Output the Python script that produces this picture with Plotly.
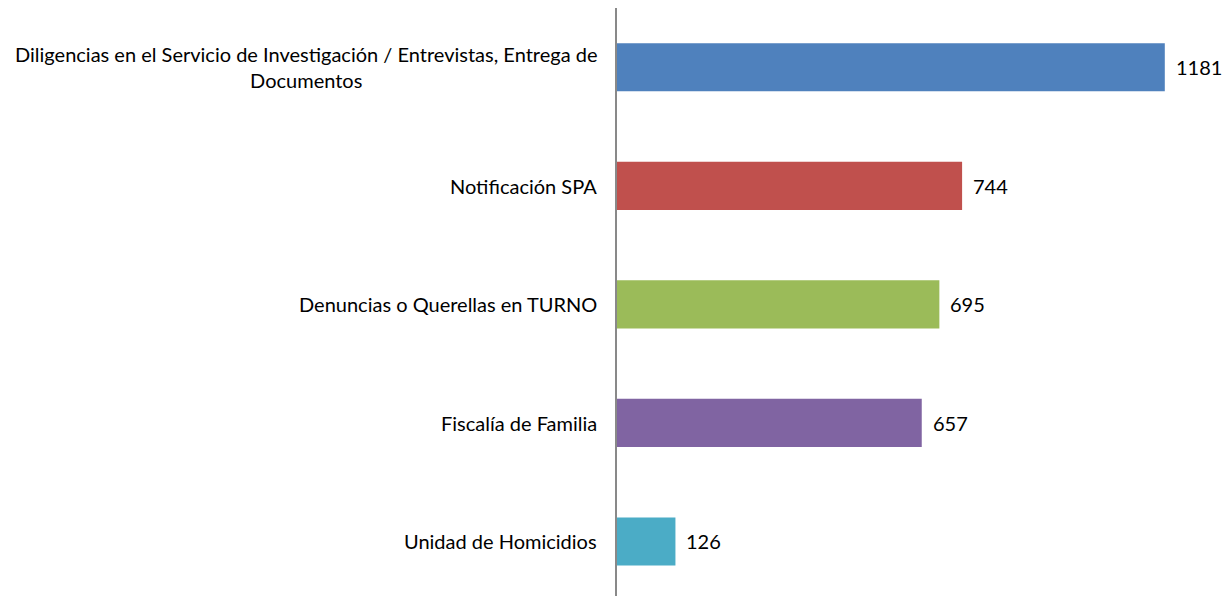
import plotly.graph_objects as go

# categorias de arriba hacia abajo
categorias = [
    "Diligencias en el Servicio de Investigación / Entrevistas, Entrega de<br>Documentos",
    "Notificación SPA",
    "Denuncias o Querellas en TURNO",
    "Fiscalía de Familia",
    "Unidad de Homicidios",
]
valores = [1181, 744, 695, 657, 126]
colores = ["#4F81BD", "#C0504D", "#9BBB59", "#8064A2", "#4BACC6"]

FUENTE = "Lato"
TAM = 20

fig = go.Figure(go.Bar(
    x=valores,
    y=list(range(len(categorias))),
    orientation="h",
    marker=dict(color=colores, line=dict(width=0)),
    hoverinfo="x",
))

# etiquetas de categoria centradas (como en Excel)
for i, cat in enumerate(categorias):
    fig.add_annotation(
        x=0, y=i, xref="paper", yref="y",
        text=cat, showarrow=False, xanchor="right", align="center",
        xshift=-18, font=dict(family=FUENTE, size=TAM, color="#000000"),
    )

# etiquetas de valor
for i, v in enumerate(valores):
    fig.add_annotation(
        x=v, y=i, xref="x", yref="y",
        text=str(v), showarrow=False, xanchor="left",
        xshift=9, font=dict(family=FUENTE, size=TAM, color="#000000"),
    )

fig.update_xaxes(range=[0, 1300], showgrid=False, zeroline=False,
                 showticklabels=False, showline=False)
fig.update_yaxes(range=[4.46, -0.5], showgrid=False, zeroline=False,
                 showticklabels=False, showline=True, linecolor="#898989",
                 linewidth=1.5)

# la pagina html tiene 8px de margen en el body
fig.update_layout(
    width=1222, height=588,
    margin=dict(l=609, r=10, t=0, b=0),
    bargap=0.594,
    plot_bgcolor="white", paper_bgcolor="white",
    showlegend=False,
)

fig.write_html("out.html")
